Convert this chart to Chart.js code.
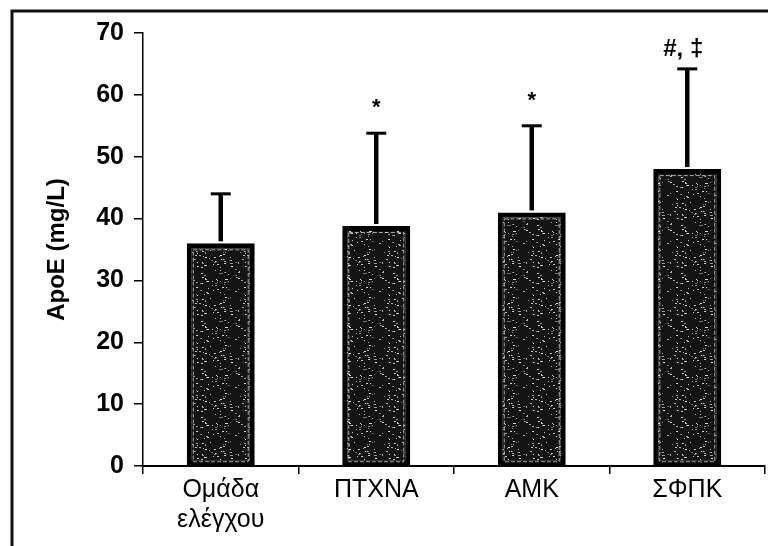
<!DOCTYPE html>
<html>
<head>
<meta charset="utf-8">
<script src="https://cdn.jsdelivr.net/npm/chart.js@4/dist/chart.umd.min.js"></script>
<style>
  html, body { margin: 0; padding: 0; background: #fff; }
  #wrap { width: 768px; height: 546px; }
</style>
</head>
<body>
<div id="wrap"><canvas id="c" width="768" height="546"></canvas></div>
<script>
// Groups, mean ApoE (mg/L), standard deviation, significance marks
const groups = [['Ομάδα', 'ελέγχου'], 'ΠΤΧΝΑ', 'ΑΜΚ', 'ΣΦΠΚ'];
const meanApoE = [36, 38.8, 41, 48];
const sdApoE = [8, 15, 14, 16.2];
const marks = ['', '*', '*', '#, ‡'];
const yTicks = [0, 10, 20, 30, 40, 50, 60, 70];

const FONT = '"Liberation Sans", Arial, sans-serif';

// Dark speckled fill for the bars (deterministic hash noise)
function speckle() {
  const c = document.createElement('canvas');
  c.width = 48; c.height = 48;
  const g = c.getContext('2d');
  g.fillStyle = '#141414';
  g.fillRect(0, 0, 48, 48);
  let s = 12345;
  const next = () => { s = (s * 1103515245 + 12345) & 0x7fffffff; return s / 0x7fffffff; };
  for (let i = 0; i < 110; i++) {
    const x = Math.floor(next() * 48), y = Math.floor(next() * 48);
    const v = 110 + Math.floor(next() * 130);
    g.fillStyle = `rgb(${v},${v},${v})`;
    g.fillRect(x, y, next() < 0.5 ? 1 : 2, 1);
  }
  return g.createPattern(c, 'repeat');
}

const framePlugin = {
  id: 'frame',
  beforeDraw(chart) {
    const ctx = chart.ctx;
    ctx.save();
    ctx.fillStyle = '#fff';
    ctx.fillRect(0, 0, chart.width, chart.height);
    ctx.strokeStyle = '#111';
    ctx.lineWidth = 3;
    ctx.beginPath();
    ctx.moveTo(12, chart.height);
    ctx.lineTo(12, 11);
    ctx.lineTo(chart.width, 11);
    ctx.stroke();
    // axis title
    ctx.translate(57, (chart.chartArea.top + chart.chartArea.bottom) / 2);
    ctx.rotate(-Math.PI / 2);
    ctx.fillStyle = '#000';
    ctx.font = 'bold 24px ' + FONT;
    ctx.textAlign = 'center';
    ctx.textBaseline = 'middle';
    ctx.fillText('ApoE (mg/L)', 0, 0);
    ctx.restore();
  }
};

const errorPlugin = {
  id: 'errs',
  afterDatasetsDraw(chart) {
    const ctx = chart.ctx;
    const x = chart.scales.x, y = chart.scales.y;
    const meta = chart.getDatasetMeta(0);
    ctx.save();
    meta.data.forEach((bar, i) => {
      // light inner outline of each bar
      const p = bar.getProps(['x', 'y', 'base', 'width'], true);
      ctx.strokeStyle = 'rgba(235,235,235,0.7)';
      ctx.lineWidth = 1;
      ctx.setLineDash([4, 2]);
      ctx.strokeRect(p.x - p.width / 2 + 6.5, p.y + 6.5, p.width - 13, p.base - p.y - 10);
      ctx.setLineDash([]);

      const cx = x.getPixelForValue(i);
      const yTop = y.getPixelForValue(meanApoE[i] + sdApoE[i]);
      const yBar = y.getPixelForValue(meanApoE[i]);
      ctx.strokeStyle = '#000';
      ctx.lineWidth = 4.5;
      ctx.beginPath();
      ctx.moveTo(cx, yBar - 2);
      ctx.lineTo(cx, yTop);
      ctx.stroke();
      ctx.lineWidth = 3;
      ctx.beginPath();
      ctx.moveTo(cx - 10, yTop);
      ctx.lineTo(cx + 10, yTop);
      ctx.stroke();
      if (marks[i]) {
        ctx.fillStyle = '#000';
        const wide = marks[i].length > 1;
        ctx.font = 'bold ' + (wide ? 24 : 22) + 'px ' + FONT;
        ctx.textAlign = 'center';
        ctx.textBaseline = 'middle';
        ctx.fillText(marks[i], cx - (wide ? 4 : 0), yTop - (wide ? 20 : 25));
      }
    });
    ctx.restore();
  }
};

new Chart(document.getElementById('c'), {
  type: 'bar',
  data: {
    labels: groups,
    datasets: [{
      data: meanApoE,
      backgroundColor: speckle(),
      borderColor: '#000',
      borderWidth: 5,
      borderSkipped: false,
      categoryPercentage: 1,
      barPercentage: 0.437
    }]
  },
  options: {
    responsive: false,
    animation: false,
    events: [],
    layout: { padding: { left: 0, right: 3, top: 33, bottom: 0 } },
    plugins: { legend: { display: false }, tooltip: { enabled: false }, title: { display: false } },
    scales: {
      x: {
        afterFit(s) { s.height = 80; },
        grid: { display: true, drawOnChartArea: false, offset: true, color: '#000', lineWidth: 1.5, tickLength: 8 },
        border: { display: true, color: '#000', width: 2 },
        ticks: { color: '#000', font: { family: FONT, size: 25 }, padding: 1, maxRotation: 0, autoSkip: false }
      },
      y: {
        min: 0, max: 70,
        afterFit(s) { s.width = 143; },
        afterBuildTicks(s) { s.ticks = yTicks.map(v => ({ value: v })); },
        grid: { display: true, drawOnChartArea: false, color: '#000', lineWidth: 1.5, tickLength: 9 },
        border: { display: true, color: '#000', width: 1.5 },
        ticks: { color: '#000', font: { family: FONT, size: 25, weight: 'bold' }, padding: 10 }
      }
    }
  },
  plugins: [framePlugin, errorPlugin]
});
</script>
</body>
</html>
